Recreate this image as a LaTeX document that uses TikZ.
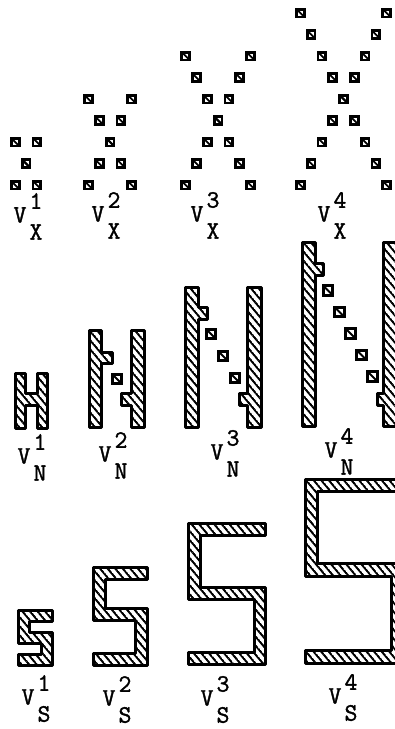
\documentclass[tikz,border=0pt]{standalone}
\usepackage{fontspec}
\usepackage{tikz}
\usetikzlibrary{calc, patterns.meta}
\newfontfamily\labfont{Latin Modern Mono}[FakeBold=1.4]

% diagonal hatching for the bars
\tikzdeclarepattern{
  name=hatchlines,
  parameters={
    /pgf/pattern keys/size,
    /pgf/pattern keys/angle,
    /pgf/pattern keys/line width,
  },
  bounding box={
    (0,-0.5*\pgfkeysvalueof{/pgf/pattern keys/line width}) and
    (\pgfkeysvalueof{/pgf/pattern keys/size},
     0.5*\pgfkeysvalueof{/pgf/pattern keys/line width})},
  tile size={(\pgfkeysvalueof{/pgf/pattern keys/size},
              \pgfkeysvalueof{/pgf/pattern keys/size})},
  tile transformation={rotate=\pgfkeysvalueof{/pgf/pattern keys/angle}},
  defaults={
    size/.initial=5pt,
    angle/.initial=45,
    line width/.initial=.4pt,
  },
  code={
    \draw[line width=\pgfkeysvalueof{/pgf/pattern keys/line width}]
      (0,0) -- (\pgfkeysvalueof{/pgf/pattern keys/size},0);
  },
}

\tikzset{
  cell/.style={draw, line width=2.8pt, minimum size=7.8pt, inner sep=0pt,
    path picture={\draw[line width=1.8pt] (path picture bounding box.north west)
      -- (path picture bounding box.south east);}},
  bigcell/.style={cell, minimum size=9.6pt},
  bar/.style={line width=3pt, line join=round,
    pattern={hatchlines[size=5.8pt, angle=-50, line width=2pt]}},
  vlab/.style={inner sep=0pt, font=\fontsize{25}{25}\selectfont\labfont},
}

% V with upper and lower index
\newcommand{\vlabel}[5]{%
  \node[vlab] (#1) at (#2,#3) {V};
  \node[vlab] (#1-sup) at ($(#1)+(16,-14)$) {#4};
  \node[vlab] (#1-sub) at ($(#1)+(16,17)$) {#5};
}

\begin{document}
\begin{tikzpicture}[x=1pt, y=-1pt]
  \useasboundingbox (0,0) rectangle (395,729);

  % V_X: crosses of cells
  \foreach \k/\cx in {1/26, 2/110, 3/218, 4/343.5}{
    \pgfmathtruncatemacro{\rows}{2*\k}
    \foreach \i in {0,...,\rows}{
      \pgfmathsetmacro{\d}{abs(\i-\k)*10.8}
      \node[cell] (x\k-\i-l) at (\cx-\d, 185-21.5*\i) {};
      \node[cell] (x\k-\i-r) at (\cx+\d, 185-21.5*\i) {};
    }
  }
  \vlabel{vx1}{20}{215}{1}{X}
  \vlabel{vx2}{98}{214}{2}{X}
  \vlabel{vx3}{197}{214}{3}{X}
  \vlabel{vx4}{324}{214}{4}{X}

  % V_N^1
  \draw[bar] (15,373) -- (25,373) -- (25,393) -- (37,393) -- (37,373) -- (47,373)
    -- (47,428) -- (37,428) -- (37,405) -- (25,405) -- (25,428) -- (15,428) -- cycle;
  % V_N^2
  \draw[bar] (89,330) -- (101,330) -- (101,352) -- (112,352) -- (112,363) -- (101,363)
    -- (101,427) -- (89,427) -- cycle;
  \draw[bar] (131,330) -- (144,330) -- (144,427) -- (131,427) -- (131,405) -- (121,405)
    -- (121,393) -- (131,393) -- cycle;
  \node[bigcell] (n2-1) at (117,379) {};
  % V_N^3
  \draw[bar] (185,287) -- (198,287) -- (198,307) -- (207,307) -- (207,319) -- (198,319)
    -- (198,427) -- (185,427) -- cycle;
  \draw[bar] (247,287) -- (261,287) -- (261,427) -- (247,427) -- (247,405) -- (239,405)
    -- (239,393) -- (247,393) -- cycle;
  \foreach \nx/\ny [count=\j] in {211/334, 223/356, 235/378}
    \node[bigcell] (n3-\j) at (\nx,\ny) {};
  % V_N^4
  \draw[bar] (302,242) -- (315,242) -- (315,263) -- (323,263) -- (323,275) -- (315,275)
    -- (315,426) -- (302,426) -- cycle;
  \draw[bar] (383,242) -- (396,242) -- (396,426) -- (383,426) -- (383,405) -- (377,405)
    -- (377,393) -- (383,393) -- cycle;
  \foreach \nx/\ny [count=\j] in {328/290.5, 339.5/312, 350.5/333.5, 361.5/355, 372.5/376.5}
    \node[bigcell] (n4-\j) at (\nx,\ny) {};
  \vlabel{vn1}{24}{456}{1}{N}
  \vlabel{vn2}{105}{454}{2}{N}
  \vlabel{vn3}{217}{452}{3}{N}
  \vlabel{vn4}{331}{450}{4}{N}

  % V_S
  \draw[bar] (18,610) -- (52,610) -- (52,621) -- (29,621) -- (29,632) -- (52,632)
    -- (52,665) -- (18,665) -- (18,654) -- (41,654) -- (41,643) -- (18,643) -- cycle;
  \draw[bar] (93,567) -- (147,567) -- (147,579) -- (105,579) -- (105,608) -- (147,608)
    -- (147,665) -- (93,665) -- (93,653) -- (135,653) -- (135,620) -- (93,620) -- cycle;
  \draw[bar] (188,523) -- (265,523) -- (265,535) -- (200,535) -- (200,587) -- (265,587)
    -- (265,664) -- (188,664) -- (188,652) -- (254,652) -- (254,599) -- (188,599) -- cycle;
  \draw[bar] (305,479) -- (404,479) -- (404,491) -- (317,491) -- (317,563) -- (404,563)
    -- (404,663) -- (305,663) -- (305,650) -- (391,650) -- (391,576) -- (305,576) -- cycle;
  \vlabel{vs1}{28}{697}{1}{S}
  \vlabel{vs2}{109}{698}{2}{S}
  \vlabel{vs3}{207}{698}{3}{S}
  \vlabel{vs4}{335}{696}{4}{S}
\end{tikzpicture}
\end{document}
